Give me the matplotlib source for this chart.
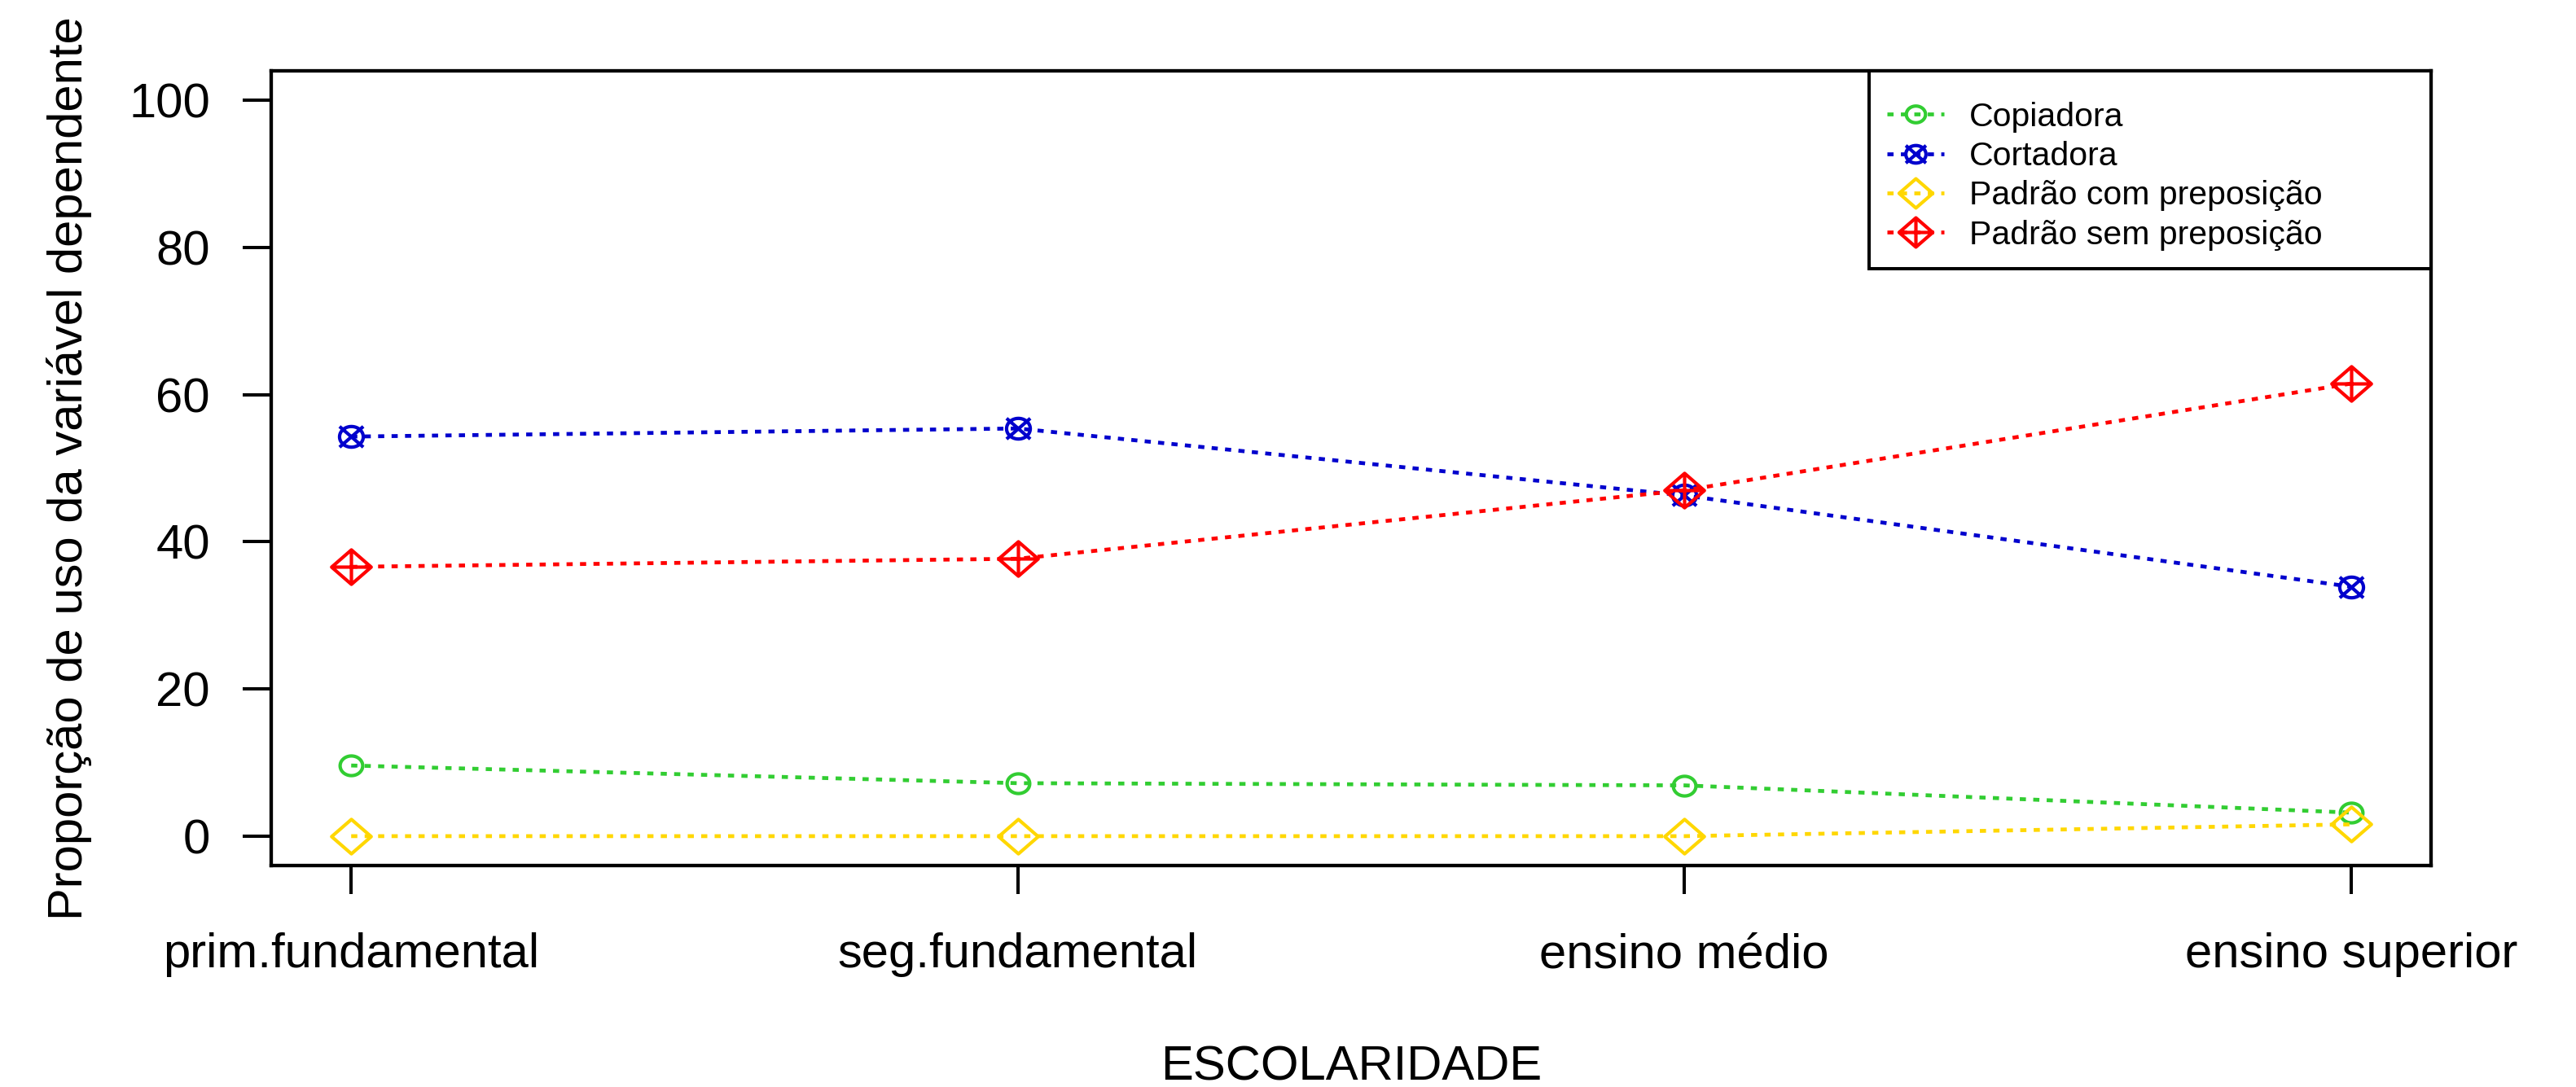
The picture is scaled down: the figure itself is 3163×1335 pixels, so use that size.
import matplotlib
matplotlib.use("Agg")
import matplotlib.pyplot as plt
import numpy as np
from matplotlib.path import Path

categorias = ["prim.fundamental", "seg.fundamental", "ensino médio", "ensino superior"]
copiadora = [9.6, 7.2, 6.9, 3.2]
cortadora = [54.3, 55.4, 46.3, 33.9]
padrao_com = [0.0, 0.0, 0.0, 1.6]
padrao_sem = [36.6, 37.7, 47.0, 61.5]

series = ["Copiadora", "Cortadora", "Padrão com preposição", "Padrão sem preposição"]
cores = ["#32CD32", "#0000CD", "#FFD700", "#FF0000"]

plt.rcParams['font.family'] = ['Liberation Sans', 'DejaVu Sans']

# R-like point symbols (slightly wider than tall, as in the picture)
sx = 1.15
t = np.linspace(0, 2 * np.pi, 49)[:-1]
circ = list(zip(sx * np.cos(t), np.sin(t)))

def closed(pts):
    verts = list(pts) + [pts[0]]
    codes = [Path.MOVETO] + [Path.LINETO] * (len(pts) - 1) + [Path.CLOSEPOLY]
    return verts, codes

def seg(a, b):
    return [a, b], [Path.MOVETO, Path.LINETO]

def build(parts):
    v, c = [], []
    for pv, pc in parts:
        v += pv
        c += pc
    return Path(v, c)

diam = [(sx, 0), (0, 1), (-sx, 0), (0, -1)]
m_circle = build([closed(circ)])
m_circx = build([closed(circ), seg((-sx, -1), (sx, 1)), seg((-sx, 1), (sx, -1))])
m_diam = build([closed(diam)])
m_diamplus = build([closed(diam), seg((-sx, 0), (sx, 0)), seg((0, -1), (0, 1))])

marcadores = [m_circle, m_circx, m_diam, m_diamplus]
tamanhos = [20, 21, 35, 35]
valores = [copiadora, cortadora, padrao_com, padrao_sem]

fig = plt.figure(figsize=(31.63, 13.35), dpi=100)
ax = fig.add_axes([0.10528, 0.2037, 0.83842, 0.7311])

x = np.arange(1, len(categorias) + 1)
for nome, cor, mk, ms, y in zip(series, cores, marcadores, tamanhos, valores):
    ax.plot(x, y, color=cor, lw=3.4, dashes=(1.6, 1.9), marker=mk, ms=ms,
            mfc='none', mec=cor, mew=3.0, label=nome)

ax.set_xlim(0.88, 4.12)
ax.set_ylim(-4, 104)
ax.set_xticks(x)
ax.set_xticklabels(categorias)
ax.set_yticks([0, 20, 40, 60, 80, 100])
ax.tick_params(axis='both', labelsize=43, length=25, width=2.9, color='black')
ax.tick_params(axis='y', pad=29)
ax.tick_params(axis='x', pad=34)
for s in ax.spines.values():
    s.set_linewidth(3.1)

ax.set_ylabel("Proporção de uso da variável dependente", fontsize=43)
ax.yaxis.set_label_coords(-0.083, 0.5)
ax.set_xlabel("ESCOLARIDADE", fontsize=43)
ax.xaxis.set_label_coords(0.5, -0.226)

# a tiny blank title gives the extra room above the first entry
leg = ax.legend(loc='upper left', bbox_to_anchor=(0.7398, 0.0, 0.2602, 1.0),
                mode='expand', fontsize=29.5, markerscale=0.85, frameon=True,
                fancybox=False, edgecolor='black', framealpha=1,
                borderpad=0.55, labelspacing=0.25, handlelength=1.7,
                handletextpad=0.75, borderaxespad=0,
                title=" ", title_fontsize=4)
leg.get_frame().set_linewidth(2.9)

fig.savefig("out.png", dpi=100)
